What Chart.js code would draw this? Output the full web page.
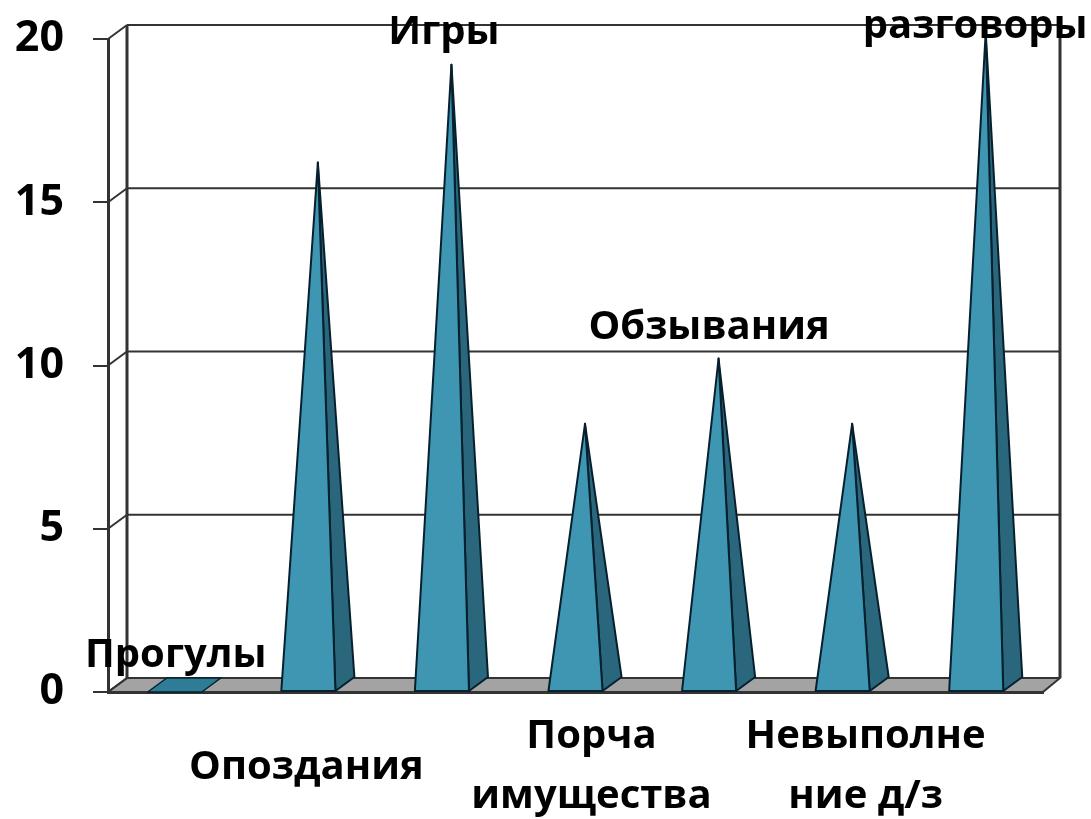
<!DOCTYPE html>
<html>
<head>
<meta charset="utf-8">
<title>Нарушения</title>
<style>
    body { margin: 0; background: #fff; }
</style>
<script src="https://cdn.jsdelivr.net/npm/chart.js@4"></script>
</head>
<body>
<canvas id="chart" width="1091" height="819"></canvas>
<script>
// данные диаграммы
const categories = ['Прогулы', 'Опоздания', 'Игры', 'Порча имущества', 'Обзывания', 'Невыполнение д/з', 'разговоры'];
const values = [0, 16, 19, 8, 10, 8, 20];
const yTicks = [0, 5, 10, 15, 20];

// подписи категорий: строки и положение
const labelLines = [['Прогулы'], ['Опоздания'], ['Игры'], ['Порча', 'имущества'], ['Обзывания'], ['Невыполне', 'ние д/з'], ['разговоры']];
const labelY = [656, 768, 33, 737, 328, 737, 27];
const labelShiftX = [1, -2, 2, 16, 0, 23, -1];

const FONT = 'bold 40px "Open Sans"';
const AXIS = '#333333';
const EDGE = '#06202e';
const DEPTH_X = 19;
const DEPTH_Y = 14;

function poly(ctx, pts, fill, stroke, width) {
    ctx.beginPath();
    pts.forEach((p, i) => i ? ctx.lineTo(p[0], p[1]) : ctx.moveTo(p[0], p[1]));
    ctx.closePath();
    if (fill) { ctx.fillStyle = fill; ctx.fill(); }
    if (stroke) { ctx.strokeStyle = stroke; ctx.lineWidth = width; ctx.lineJoin = 'round'; ctx.stroke(); }
}

function line(ctx, x1, y1, x2, y2) {
    ctx.beginPath();
    ctx.moveTo(x1, y1);
    ctx.lineTo(x2, y2);
    ctx.stroke();
}

// задняя стенка и пол
const wallsPlugin = {
    id: 'walls',
    beforeDatasetsDraw(chart) {
        const { ctx, chartArea: a, scales: { y } } = chart;
        ctx.save();
        ctx.strokeStyle = AXIS;
        ctx.lineWidth = 2.5;
        poly(ctx, [[a.left, a.bottom], [a.left + DEPTH_X, a.bottom - DEPTH_Y], [a.right + DEPTH_X - 2, a.bottom - DEPTH_Y], [a.right, a.bottom]], '#a3a3a3', AXIS, 2);
        y.ticks.forEach(t => {
            const py = y.getPixelForValue(t.value);
            line(ctx, a.left, py, a.left + DEPTH_X, py - DEPTH_Y);
            line(ctx, a.left + DEPTH_X, py - DEPTH_Y, a.right + DEPTH_X - 2, py - DEPTH_Y);
        });
        ctx.lineWidth = 3;
        line(ctx, a.left + DEPTH_X, y.top - DEPTH_Y, a.left + DEPTH_X, y.bottom - DEPTH_Y);
        line(ctx, a.right + DEPTH_X - 2, y.top - DEPTH_Y, a.right + DEPTH_X - 2, y.bottom - DEPTH_Y);
        ctx.restore();
    }
};

// пирамиды строятся по элементам столбцов
const pyramidPlugin = {
    id: 'pyramids',
    afterDatasetsDraw(chart) {
        const { ctx } = chart;
        chart.getDatasetMeta(0).data.forEach(bar => {
            const half = bar.width / 2;
            const apex = [bar.x + DEPTH_X / 2, bar.y - DEPTH_Y / 2];
            const frontL = [bar.x - half, bar.base];
            const frontR = [bar.x + half, bar.base];
            const backR = [bar.x + half + DEPTH_X, bar.base - DEPTH_Y];
            const backL = [bar.x - half + DEPTH_X, bar.base - DEPTH_Y];
            if (bar.base - bar.y < 1) {
                poly(ctx, [frontL, frontR, backR, backL], '#2f7c96', EDGE, 1.5);
                return;
            }
            poly(ctx, [frontR, backR, apex], '#2a677d', EDGE, 2);
            poly(ctx, [frontL, frontR, apex], '#3f96b3', EDGE, 2);
        });
    }
};

// подписи категорий поверх всего
const labelsPlugin = {
    id: 'catLabels',
    afterDraw(chart) {
        const { ctx, scales: { x } } = chart;
        ctx.save();
        ctx.font = FONT;
        ctx.fillStyle = '#000';
        ctx.textAlign = 'center';
        ctx.textBaseline = 'middle';
        labelLines.forEach((lines, i) => {
            const px = x.getPixelForValue(i) + labelShiftX[i];
            lines.forEach((text, n) => ctx.fillText(text, px, labelY[i] + n * 60));
        });
        ctx.restore();
    }
};

new Chart(document.getElementById('chart').getContext('2d'), {
    type: 'bar',
    data: {
        labels: categories,
        datasets: [{
            data: values,
            backgroundColor: 'rgba(0,0,0,0)',
            borderWidth: 0,
            barPercentage: 0.405,
            categoryPercentage: 1
        }]
    },
    options: {
        responsive: false,
        animation: false,
        layout: { padding: { top: 39, right: 48 } },
        plugins: { legend: { display: false }, tooltip: { enabled: false } },
        scales: {
            x: {
                afterFit(scale) { scale.height = 127; },
                ticks: { display: false },
                grid: { display: false },
                border: { color: AXIS, width: 3 }
            },
            y: {
                min: 0,
                max: 20,
                afterFit(scale) {
                    scale.width = 108;
                    // подписи не должны сдвигать область графика
                    scale.paddingTop = 0;
                    scale.paddingBottom = 0;
                },
                afterBuildTicks(scale) { scale.ticks = yTicks.map(value => ({ value })); },
                ticks: { color: '#000', font: { family: 'Open Sans', size: 43, weight: 'bold' }, padding: 29 },
                grid: { drawOnChartArea: false, tickLength: 15, color: AXIS, lineWidth: 2 },
                border: { color: AXIS, width: 3 }
            }
        }
    },
    plugins: [wallsPlugin, pyramidPlugin, labelsPlugin]
});
</script>
</body>
</html>
